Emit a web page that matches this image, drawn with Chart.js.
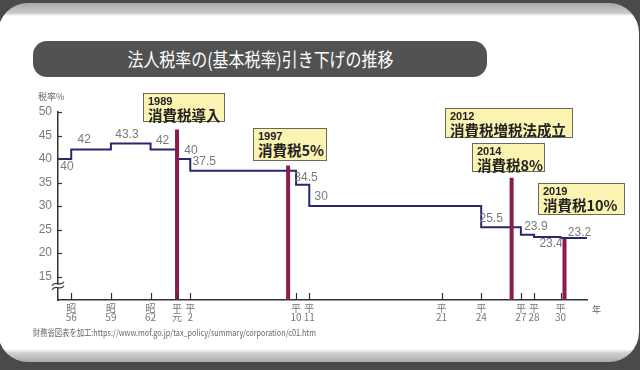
<!DOCTYPE html>
<html lang="ja">
<head>
<meta charset="utf-8">
<script src="https://cdn.jsdelivr.net/npm/chart.js@4.4.0/dist/chart.umd.min.js"></script>
<style>
  html, body { margin: 0; padding: 0; }
  body {
    width: 640px; height: 370px; overflow: hidden; position: relative;
    background: #4a4a4a;
    font-family: "Noto Sans CJK JP", "Noto Sans", sans-serif;
  }
  #card {
    position: absolute; left: -2px; top: 3px; width: 641px; height: 359px;
    border-radius: 30px;
    background: linear-gradient(to bottom, #a9a9a9 0px, #c9c9c9 10px, #fff 13px, #fff 346px, #d0d0d0 350px, #ababab 359px);
  }
  #title {
    position: absolute; left: 33px; top: 41px; width: 454px; height: 36px;
    border-radius: 14px; background: #525252;
    color: #fff; text-align: center; line-height: 36px; white-space: nowrap;
  }
  #title span { display: inline-block; font-size: 19px; transform-origin: center; }
  #source {
    position: absolute; left: 33px; top: 326px; white-space: nowrap;
    font-size: 9px; color: #666; transform-origin: left center;
  }
  #chartBox { position: absolute; left: 0; top: 0; width: 640px; height: 370px; }
  .note {
    position: absolute; box-sizing: border-box;
    background: #fbf3b2; border: 1px solid #6a6a5a;
    padding: 1px 0 0 4px; color: #222; white-space: nowrap;
  }
  .note .yr { font-family: "Liberation Sans", Arial, sans-serif; font-weight: bold; font-size: 11px; line-height: 12px; }
  .note .tx { font-weight: bold; font-size: 14.5px; line-height: 15px; }
</style>
</head>
<body>
<div id="card"></div>
<div id="title"><span>法人税率の(基本税率)引き下げの推移</span></div>
<div id="chartBox"><canvas id="chart" width="640" height="370"></canvas></div>
<div id="notes"></div>
<div id="source">財務省図表を加工:https://www.mof.go.jp/tax_policy/summary/corporation/c01.htm</div>
<script>
// step line: year the rate took effect, and the rate (last point just closes the line)
const years = [1980, 1981, 1984, 1987, 1989, 1990, 1998, 1999, 2012, 2015, 2016, 2018, 2020];
const rates = [40, 42, 43.3, 42, 40, 37.5, 34.5, 30, 25.5, 23.9, 23.4, 23.2, 23.2];

// consumption tax events (red bars)
const eventX = [1989, 1997.4, 2014.3, 2018.3];
const eventTop = [46.3, 38.6, 36.0, 23.1];

// callout boxes
const noteYears = ["1989", "1997", "2012", "2014", "2019"];
const noteTexts = ["消費税導入", "消費税5%", "消費税増税法成立", "消費税8%", "消費税10%"];

// x axis ticks (Japanese era years)
const tickYears = [1981, 1984, 1987, 1989, 1990, 1998, 1999, 2009, 2012, 2015, 2016, 2018];
const tickEra = ["昭", "昭", "昭", "平", "平", "平", "平", "平", "平", "平", "平", "平"];
const tickNum = ["56", "59", "62", "元", "2", "10", "11", "21", "24", "27", "28", "30"];

// layout only
const labelOffsets = [[9, 8], [13, -10], [16, -9], [12, -9], [14, -8], [14, -9], [10, -7], [12, -9], [10, -8], [15, -8], [17, 7], [19, -5]];
const noteBoxes = [
  { left: 143, top: 93, width: 82, height: 29 },
  { left: 253, top: 128, width: 74, height: 33 },
  { left: 445, top: 108, width: 128, height: 30 },
  { left: 472, top: 143, width: 73, height: 29 },
  { left: 538, top: 183, width: 87, height: 32 }
];

const axisColor = "#333";
const lineColor = "#27296b";
const barColor = "#8c1c4e";

const notesEl = document.getElementById("notes");
noteBoxes.forEach((box, i) => {
  const div = document.createElement("div");
  div.className = "note";
  div.style.left = box.left + "px";
  div.style.top = box.top + "px";
  div.style.width = box.width + "px";
  div.style.height = box.height + "px";
  div.innerHTML = `<div class="yr">${noteYears[i]}</div><div class="tx">${noteTexts[i]}</div>`;
  notesEl.appendChild(div);
});

function fitWidth(el, target) {
  const w = el.getBoundingClientRect().width;
  el.style.transform = `scaleX(${target / w})`;
}
fitWidth(document.querySelector("#title span"), 266);
fitWidth(document.getElementById("source"), 283);

const extras = {
  id: "extras",
  afterDatasetsDraw(chart) {
    const { ctx, scales: { x, y } } = chart;
    ctx.save();
    ctx.strokeStyle = axisColor;
    ctx.lineWidth = 1.2;
    // inward tick marks
    tickYears.forEach(v => {
      const px = Math.round(x.getPixelForValue(v)) + 0.5;
      ctx.beginPath();
      ctx.moveTo(px, y.bottom);
      ctx.lineTo(px, y.bottom - 7);
      ctx.stroke();
    });
    for (let v = 15; v <= 50; v += 5) {
      const py = Math.round(y.getPixelForValue(v)) + 0.5;
      ctx.beginPath();
      ctx.moveTo(x.left, py);
      ctx.lineTo(x.left + 4, py);
      ctx.stroke();
    }
    // axis break mark
    const bx = x.left;
    const by = y.getPixelForValue(12.4);
    ctx.fillStyle = "#fff";
    ctx.beginPath();
    ctx.moveTo(bx - 6, by + 1);
    ctx.bezierCurveTo(bx - 2, by - 5, bx + 2, by + 3, bx + 6, by - 3);
    ctx.lineTo(bx + 6, by - 6);
    ctx.bezierCurveTo(bx + 2, by, bx - 2, by - 8, bx - 6, by - 2);
    ctx.closePath();
    ctx.fill();
    [0, -4].forEach(d => {
      ctx.beginPath();
      ctx.moveTo(bx - 6, by + 1 + d);
      ctx.bezierCurveTo(bx - 2, by - 5 + d, bx + 2, by + 3 + d, bx + 6, by - 3 + d);
      ctx.stroke();
    });
    // value labels
    ctx.fillStyle = "#7a7a7a";
    ctx.font = "12px 'Liberation Sans', Arial, sans-serif";
    ctx.textAlign = "center";
    ctx.textBaseline = "middle";
    for (let i = 0; i < rates.length - 1; i++) {
      const px = x.getPixelForValue(years[i]) + labelOffsets[i][0];
      const py = y.getPixelForValue(rates[i]) + labelOffsets[i][1];
      ctx.fillText(String(rates[i]), px, py);
    }
    // axis titles
    ctx.fillStyle = "#666";
    ctx.font = "9px 'Noto Sans CJK JP', sans-serif";
    ctx.textAlign = "left";
    ctx.fillText("税率%", 38, 97);
    ctx.fillText("年", 592, 310);
    ctx.restore();
  }
};

const eventSets = eventX.map((ex, i) => ({
  data: [{ x: ex, y: 10 }, { x: ex, y: eventTop[i] }],
  borderColor: barColor,
  borderWidth: 4,
  pointRadius: 0,
  order: 0
}));

new Chart(document.getElementById("chart"), {
  type: "line",
  data: {
    datasets: [
      {
        data: years.map((yr, i) => ({ x: yr, y: rates[i] })),
        borderColor: lineColor,
        borderWidth: 2,
        stepped: "before",
        pointRadius: 0,
        order: 1
      },
      ...eventSets
    ]
  },
  options: {
    responsive: false,
    animation: false,
    layout: { padding: { left: 0, right: 53, top: 112, bottom: 0 } },
    plugins: { legend: { display: false }, tooltip: { enabled: false } },
    scales: {
      x: {
        type: "linear",
        min: 1980,
        max: 2020,
        afterBuildTicks: scale => { scale.ticks = tickYears.map(v => ({ value: v })); },
        afterFit: scale => { scale.height = 70; },
        grid: { display: false, drawTicks: false },
        border: { color: axisColor, width: 1.5 },
        ticks: {
          autoSkip: false,
          maxRotation: 0,
          minRotation: 0,
          padding: 3,
          color: "#777",
          font: { size: 10, family: "'Noto Sans CJK JP', sans-serif", lineHeight: 0.95 },
          callback: (value, index) => [tickEra[index], tickNum[index]]
        }
      },
      y: {
        min: 10,
        max: 50,
        afterFit: scale => { scale.width = 58; },
        grid: { display: false, drawTicks: false },
        border: { color: axisColor, width: 1.5 },
        ticks: {
          stepSize: 5,
          padding: 6,
          color: "#7a7a7a",
          font: { size: 12, family: "'Liberation Sans', Arial, sans-serif" },
          callback: v => (v === 10 ? "" : v)
        }
      }
    }
  },
  plugins: [extras]
});
</script>
</body>
</html>
